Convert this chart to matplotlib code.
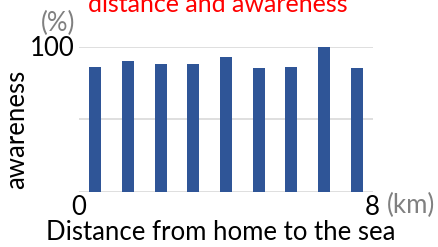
import matplotlib
matplotlib.use('Agg')
import matplotlib.pyplot as plt

# awareness (%) for each 1 km distance band, 0 -> 8 km
bands = ['0-1', '1-2', '2-3', '3-4', '4-5', '5-6', '6-7', '7-8', '8+']
awareness = [86, 90, 88, 88, 93, 85, 86, 100, 85]
yticks = [0, 50, 100]

plt.rcParams['font.family'] = ['Lato', 'DejaVu Sans']

fig = plt.figure(figsize=(4.38, 2.47), dpi=100)
ax = fig.add_axes([79/438, 1-191.7/247, (373-79)/438, (191.7-46.7)/247])

x = range(len(bands))
ax.bar(x, awareness, width=0.36, color='#2F5597', zorder=3, clip_on=False)
ax.set_xlim(-0.5, len(bands)-0.5)
ax.set_ylim(0, 100)
ax.set_yticks(yticks)
ax.yaxis.grid(True, color='#D9D9D9', lw=1.2, zorder=0)
ax.set_xticks([])
ax.set_yticklabels([])
ax.tick_params(length=0)
for s in ax.spines.values():
    s.set_visible(False)

fs = 18.5
fig.text(52/438, 1-49/247, '100', fontsize=fs, ha='center', va='center')
fig.text(58/438, 1-23/247, '(%)', fontsize=fs, color='#808080', ha='center', va='center')
fig.text(78.5/438, 1-207/247, '0', fontsize=fs, ha='center', va='center')
fig.text(372/438, 1-207/247, '8', fontsize=fs, ha='center', va='center')
fig.text(411/438, 1-205/247, '(km)', fontsize=fs, color='#808080', ha='center', va='center')
fig.text(17/438, 1-129/247, 'awareness', fontsize=fs, rotation=90, ha='center', va='center')
fig.text(221/438, 1-232/247, 'Distance from home to the sea', fontsize=fs, ha='center', va='center')
fig.text(218/438, 1-12/247, 'distance and awareness', fontsize=18, color='#FF0000',
         ha='center', va='baseline')

fig.savefig('out.png', dpi=100)
